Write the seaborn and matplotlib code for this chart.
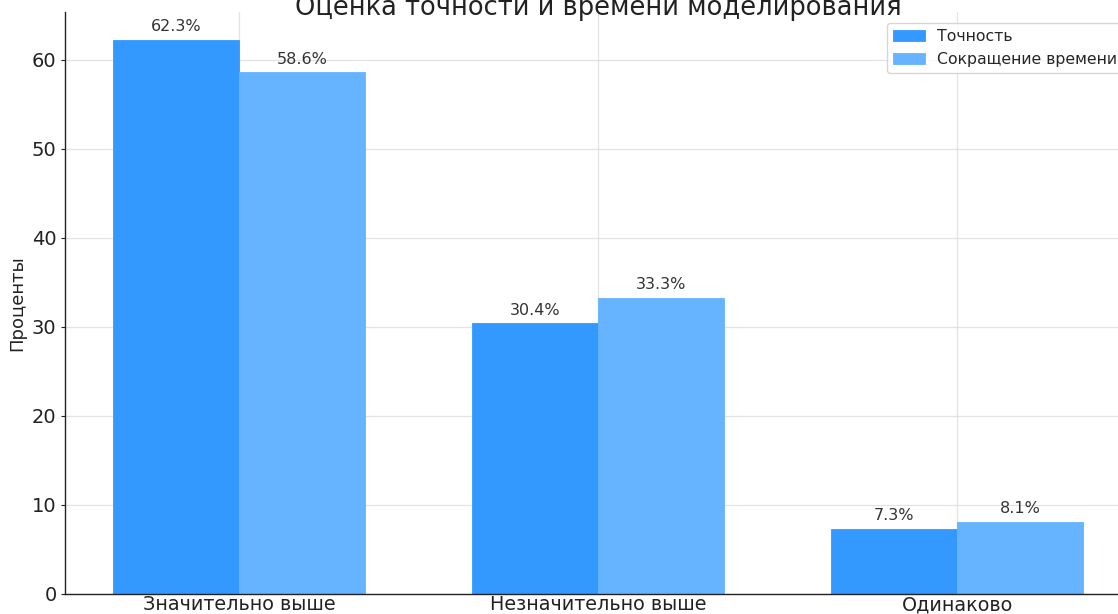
import matplotlib
matplotlib.use("Agg")
import matplotlib.pyplot as plt
import seaborn as sns
import pandas as pd

categories = ["Значительно выше", "Незначительно выше", "Одинаково"]
series_names = ["Точность", "Сокращение времени"]
accuracy = [62.3, 30.4, 7.3]
time_reduction = [58.6, 33.3, 8.1]
colors = ["#3399ff", "#66b3ff"]

df = pd.DataFrame({
    "Категория": categories * 2,
    "Серия": [series_names[0]] * 3 + [series_names[1]] * 3,
    "Значение": accuracy + time_reduction,
})

sns.set_theme(style="whitegrid")
plt.rcParams["font.family"] = ["DejaVu Sans"]

fig = plt.figure(figsize=(11.18, 6.14), dpi=100)
ax = fig.add_axes([0.0581, 0.0326, 0.9537, 0.948])

sns.barplot(data=df, x="Категория", y="Значение", hue="Серия",
            palette=colors, saturation=1, width=0.7, ax=ax, linewidth=0.6)
for p in ax.patches:
    p.set_edgecolor(p.get_facecolor())

ax.set_xlim(-0.485, 2.485)
ax.set_ylim(0, 65.4)
ax.set_yticks([0, 10, 20, 30, 40, 50, 60])
ax.xaxis.grid(True)
ax.yaxis.grid(True)
ax.grid(color="#d8d8d8", linestyle="-", linewidth=0.9, alpha=0.7)
ax.set_axisbelow(True)
for s in ["top", "right"]:
    ax.spines[s].set_visible(False)
for s in ["left", "bottom"]:
    ax.spines[s].set_color("#222222")
    ax.spines[s].set_linewidth(1.0)

for container in ax.containers:
    ax.bar_label(container, labels=[f"{v:.1f}%" for v in container.datavalues],
                 padding=4, fontsize=11.5, color="#333333")

ax.set_title("Оценка точности и времени моделирования", fontsize=18.5, pad=-2, color="#222222")
ax.set_xlabel("")
ax.set_ylabel("Проценты", fontsize=13, color="#222222")
ax.tick_params(axis="y", labelsize=14, colors="#222222", length=3, width=0.8,
               direction="out", pad=3, left=True)
ax.tick_params(axis="x", labelsize=13.8, colors="#222222", length=0, pad=1, bottom=True)

leg = ax.legend(loc="upper right", fontsize=11.3, frameon=True, title=None,
                bbox_to_anchor=(1.0, 0.995))
leg.get_frame().set_edgecolor("#cccccc")

fig.savefig("out.png", dpi=100)
